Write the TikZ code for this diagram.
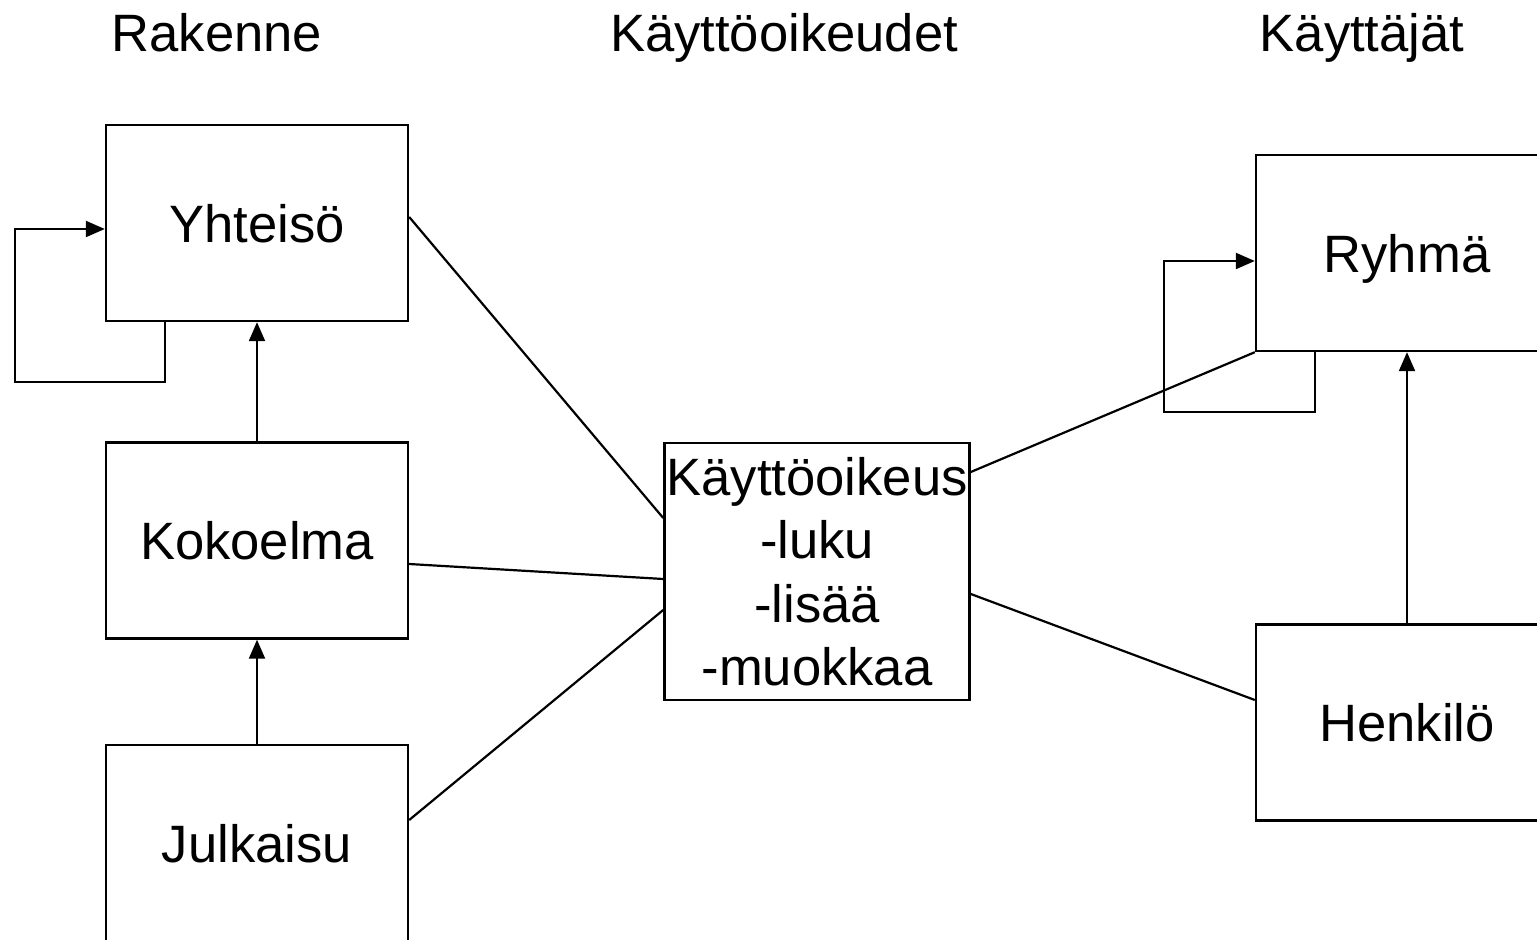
\documentclass[tikz,border=0pt]{standalone}
\usepackage{fontspec}
\setmainfont{Liberation Sans}
\usepackage{tikz}
\usetikzlibrary{arrows.meta}
\usetikzlibrary{calc}
\tikzstyle{box}=[draw,rectangle,line width=1.2pt,minimum width=151pt,minimum height=98pt,inner sep=1pt,align=center,text depth=0pt]
\tikzstyle{arr}=[-{Triangle[length=9.5pt,width=8pt]}]

\begin{document}
\begin{tikzpicture}[x=0.5pt,y=-0.5pt,line width=1.1pt,font=\fontsize{26.3pt}{31.75pt}\selectfont]
\useasboundingbox (0,0) rectangle (1537,940);
\clip (0,0) rectangle (1537,940);
\node [anchor=base] (t1) at (217,52) {Rakenne};
\node [anchor=base] (t2) at (784,52) {Käyttöoikeudet};
\node [anchor=base] (t3) at (1362,52) {Käyttäjät};

\node [box] (yht) at (257,223) {Yhteisö};
\node [box] (kok) at (257,540.5) {Kokoelma};
\node [box] (jul) at (257,843) {Julkaisu};
\node [box,minimum width=152pt,minimum height=128.5pt] (oik) at (817,571.5)
  {Käyttöoikeus\\-luku\\-lisää\\-muokkaa};
\node [box] (ryh) at (1407,253) {Ryhmä};
\node [box] (hen) at (1407,722.5) {Henkilö};

\draw [arr] ($(yht.south west)+(60,0)$) |- (15,382) |- ($(yht.west)+(0,6)$);
\draw [arr] (kok.north) -- (yht.south);
\draw [arr] (jul.north) -- (kok.south);
\draw [arr] ($(ryh.south west)+(60,0)$) |- (1164,412) |- ($(ryh.west)+(0,8)$);
\draw [arr] (hen.north) -- (ryh.south);

\draw ($(yht.east)+(0,-6)$) -- ($(oik.west)+(0,-53.5)$);
\draw ($(kok.east)+(0,23.5)$) -- ($(oik.west)+(0,7.5)$);
\draw ($(jul.east)+(0,-23)$) -- ($(oik.west)+(0,38.5)$);
\draw ($(oik.east)+(0,-99.5)$) -- (ryh.south west);
\draw ($(oik.east)+(0,22.5)$) -- ($(hen.west)+(0,-22.5)$);
\end{tikzpicture}
\end{document}
